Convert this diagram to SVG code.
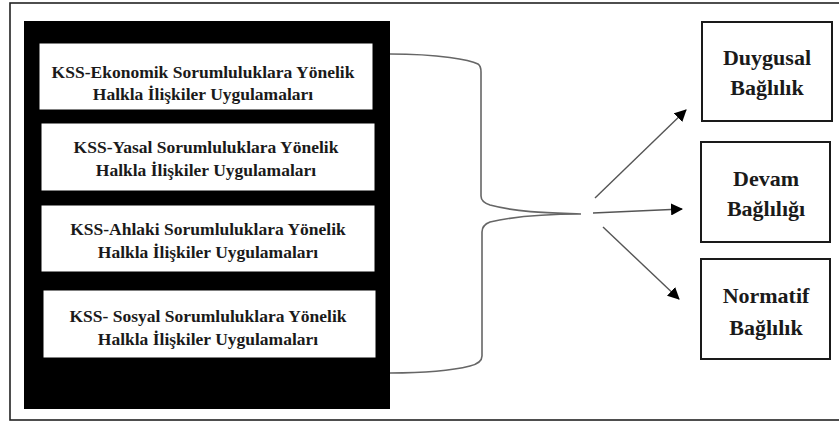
<svg xmlns="http://www.w3.org/2000/svg" width="839" height="428" viewBox="0 0 839 428">
  <style>
    .frame { fill: #ffffff; stroke: #222222; stroke-width: 1.6; }
    .panel { fill: #000000; }
    .item { fill: #ffffff; stroke: #000000; stroke-width: 1; }
    .item-text { font-family: "Liberation Serif", "DejaVu Serif", serif; font-weight: bold; font-size: 17.5px; fill: #1a1a1a; text-anchor: middle; }
    .out { fill: #ffffff; stroke: #1a1a1a; stroke-width: 2; }
    .out-text { font-family: "Liberation Serif", "DejaVu Serif", serif; font-weight: bold; font-size: 22px; fill: #1a1a1a; text-anchor: middle; }
    .brace { fill: none; stroke: #666666; stroke-width: 1.6; }
    .arrow { fill: none; stroke: #555555; stroke-width: 1.4; marker-end: url(#head); }
  </style>
  <defs>
    <marker id="head" viewBox="0 0 12 12" refX="11" refY="6" markerWidth="12" markerHeight="12" markerUnits="userSpaceOnUse" orient="auto">
      <path d="M0,0 L12,6 L0,12 Z" fill="#000000"/>
    </marker>
  </defs>

  <!-- outer frame -->
  <rect class="frame" x="10" y="3" width="840" height="417"/>

  <!-- left panel with the four practice areas -->
  <g id="panel">
    <rect class="panel" x="24" y="21" width="366" height="388"/>
  </g>
  <g id="ekonomik">
    <rect class="item" x="39" y="43" width="334" height="67"/>
    <text class="item-text" x="203" y="78">KSS-Ekonomik Sorumluluklara Yönelik</text>
    <text class="item-text" x="203" y="100">Halkla İlişkiler Uygulamaları</text>
  </g>
  <g id="yasal">
    <rect class="item" x="41" y="123" width="334" height="68"/>
    <text class="item-text" x="206" y="153">KSS-Yasal Sorumluluklara Yönelik</text>
    <text class="item-text" x="206" y="176">Halkla İlişkiler Uygulamaları</text>
  </g>
  <g id="ahlaki">
    <rect class="item" x="41" y="205" width="334" height="67"/>
    <text class="item-text" x="208" y="235">KSS-Ahlaki Sorumluluklara Yönelik</text>
    <text class="item-text" x="208" y="258">Halkla İlişkiler Uygulamaları</text>
  </g>
  <g id="sosyal">
    <rect class="item" x="43" y="290" width="333" height="68"/>
    <text class="item-text" x="208" y="322">KSS- Sosyal Sorumluluklara Yönelik</text>
    <text class="item-text" x="208" y="345">Halkla İlişkiler Uygulamaları</text>
  </g>

  <!-- commitment outcomes -->
  <g id="duygusal">
    <rect class="out" x="702" y="22" width="130" height="99"/>
    <text class="out-text" x="767" y="65">Duygusal</text>
    <text class="out-text" x="767" y="95">Bağlılık</text>
  </g>
  <g id="devam">
    <rect class="out" x="701" y="142" width="129" height="100"/>
    <text class="out-text" x="766" y="186">Devam</text>
    <text class="out-text" x="766" y="216">Bağlılığı</text>
  </g>
  <g id="normatif">
    <rect class="out" x="701" y="259" width="129" height="100"/>
    <text class="out-text" x="766" y="303">Normatif</text>
    <text class="out-text" x="766" y="335">Bağlılık</text>
  </g>

  <!-- connectors -->
  <g id="connectors">
    <path class="brace" d="M390,54 C440,54 470,60 478,64 Q481,66 481,72 L481,196 Q481,202 490,205 C520,213 555,213 581,214 C555,214 520,215 490,222 Q482,225 482,232 L482,356 Q482,363 470,366 C450,371 420,373 390,373"/>
    <line class="arrow" x1="595" y1="198" x2="686" y2="110"/>
    <line class="arrow" x1="593" y1="213" x2="682" y2="209"/>
    <line class="arrow" x1="603" y1="227" x2="679" y2="299"/>
  </g>
</svg>
